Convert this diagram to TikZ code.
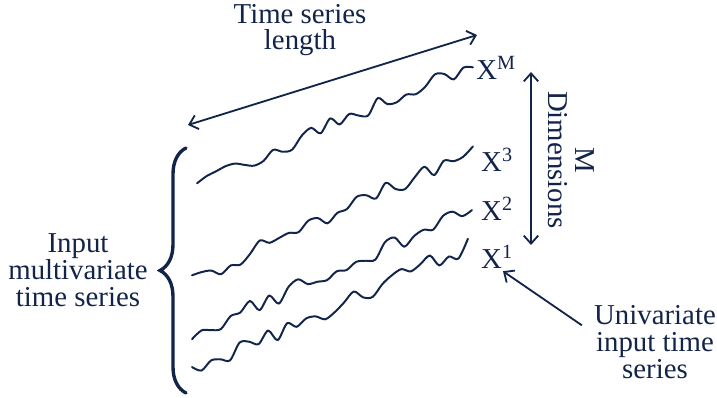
\documentclass[tikz,border=0pt]{standalone}
\usepackage{fontspec}
\setmainfont{Liberation Serif}
\usepackage{tikz}
\usetikzlibrary{
  arrows.meta,
  positioning,
  decorations.pathreplacing,
}
\definecolor{ink}{HTML}{13244A}
\tikzset{
  txt/.style={
    font=\fontsize{20.5}{19}\selectfont, text=ink, align=center,
    inner sep=0pt,
  },
  arrowBoth/.style={
    {Straight Barb[length=2mm,width=3.6mm]}-{Straight Barb[length=2mm,width=3.6mm]},
    line width=1.3pt, draw=ink,
  },
  arrowOne/.style={
    -{Straight Barb[length=2mm,width=3.6mm]}, line width=1.3pt, draw=ink,
  },
  wave/.style={
    draw=ink, line width=1.4pt, line join=round, line cap=round,
  },
  bigbrace/.style={
    decorate, decoration={brace, amplitude=6.5mm}, line width=2.4pt,
    draw=ink, line cap=round,
  },
}

\begin{document}
\begin{tikzpicture}[x=0.025cm, y=-0.025cm]
\useasboundingbox (0,0) rectangle (717,398);

% Length of the series
\node[txt] (lenlab) at (300,30) {Time series\\length};
\coordinate (lenL) at (188,125);
\coordinate (lenR) at (477,35);
\draw[arrowBoth] (lenL) -- (lenR);

% The M univariate series, one wavy line each
\foreach \name/\xa/\ya/\xb/\yb/\seed in {
  M/197/183/473/65/11, 3/192/280/473/152/23,
  2/192/335/472/208/37, 1/192/372/468/247/51}
{
  \pgfmathsetseed{\seed}
  \draw[wave] plot[smooth, samples=30, domain=0:1, variable=\t]
    ({\xa+(\xb-\xa)*\t}, {\ya+(\yb-\ya)*\t + 9*rand});
}
\node[txt] (xM) at (496,68) {X\textsuperscript{M}};
\node[txt] (x3) at (497,160) {X\textsuperscript{3}};
\node[txt] (x2) at (497,209) {X\textsuperscript{2}};
\node[txt] (x1) at (497,257) {X\textsuperscript{1}};

% Dimensions
\coordinate (dimT) at (531,72);
\coordinate (dimB) at (531,245);
\draw[arrowBoth] (dimB) -- (dimT);
\node[txt, rotate=-90] (dimlab) at (571,160) {M\\Dimensions};

% Brace round the whole input
\coordinate (brB) at (186,393);
\coordinate (brT) at (186,148);
\draw[bigbrace] (brB) -- (brT);
\node[txt] (inlab) at (78,270) {Input\\multivariate\\time series};

% One univariate series
\node[txt] (unilab) at (655,342) {Univariate\\input time\\series};
\draw[arrowOne] ([shift={(-12,20)}]unilab.north west) -- ([shift={(6,2)}]x1.south);

\end{tikzpicture}
\end{document}
